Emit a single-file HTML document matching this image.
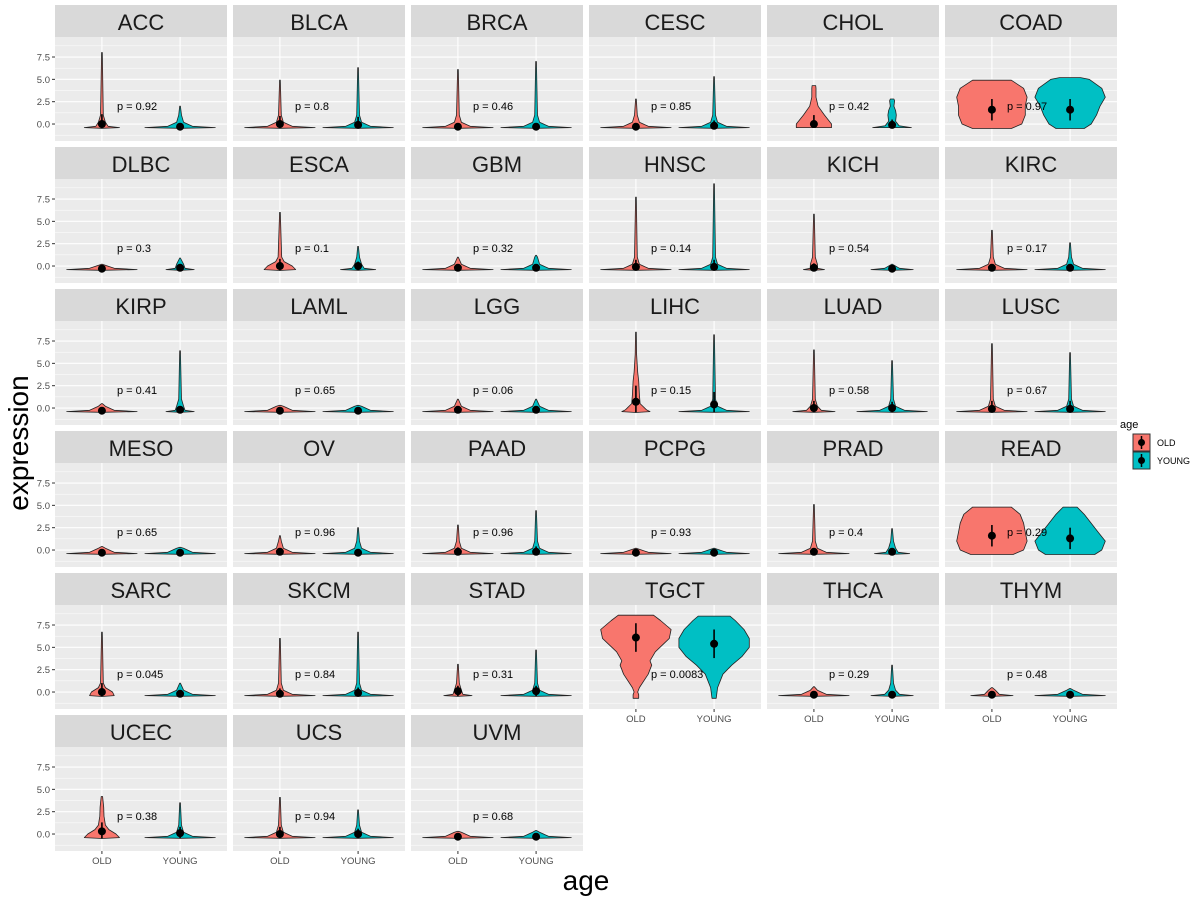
<!DOCTYPE html>
<html><head><meta charset="utf-8"><style>
body{margin:0;background:#fff;font-family:"Liberation Sans",Arial,sans-serif}
svg{display:block}
</style></head><body>
<svg id="chart" width="1200" height="900" viewBox="0 0 1200 900" xmlns="http://www.w3.org/2000/svg">
<text x="586" y="890" font-size="28" text-anchor="middle" fill="#000">age</text>
<text transform="translate(28,443) rotate(-90)" font-size="28" text-anchor="middle" fill="#000">expression</text>
<g>
<text x="1120" y="428" font-size="11" fill="#000">age</text>
<g><rect x="1133" y="434" width="17" height="17" fill="#F8766D" stroke="#333" stroke-width="1"/><line x1="1141.5" y1="436" x2="1141.5" y2="449" stroke="#000" stroke-width="1.5"/><circle cx="1141.5" cy="442.5" r="3.5" fill="#000"/><text x="1157" y="446" font-size="9" fill="#000">OLD</text></g>
<g><rect x="1133" y="452" width="17" height="17" fill="#00BFC4" stroke="#333" stroke-width="1"/><line x1="1141.5" y1="454" x2="1141.5" y2="467" stroke="#000" stroke-width="1.5"/><circle cx="1141.5" cy="460.5" r="3.5" fill="#000"/><text x="1157" y="464" font-size="9" fill="#000">YOUNG</text></g>
</g>
<g id="panels"></g>
</svg>
<script>
const cancers=["ACC","BLCA","BRCA","CESC","CHOL","COAD","DLBC","ESCA","GBM","HNSC","KICH","KIRC","KIRP","LAML","LGG","LIHC","LUAD","LUSC","MESO","OV","PAAD","PCPG","PRAD","READ","SARC","SKCM","STAD","TGCT","THCA","THYM","UCEC","UCS","UVM"];
const pLabels=["0.92","0.8","0.46","0.85","0.42","0.97","0.3","0.1","0.32","0.14","0.54","0.17","0.41","0.65","0.06","0.15","0.58","0.67","0.65","0.96","0.96","0.93","0.4","0.29","0.045","0.84","0.31","0.0083","0.29","0.48","0.38","0.94","0.68"];
const oldMax=[8,4.9,6.1,2.8,4.3,4.9,0.2,6.0,1.0,7.7,5.8,4.0,0.5,0.3,1.0,8.5,6.5,7.2,0.4,1.6,2.8,0.2,5.1,4.8,6.7,6.0,3.1,8.6,0.6,0.5,4.2,4.1,0.3];
const youngMax=[2,6.3,7.0,5.3,2.8,5.2,0.9,2.2,1.2,9.2,0.2,2.6,6.4,0.3,1.0,8.2,5.3,6.2,0.3,2.5,4.4,0.2,2.4,4.8,1.0,6.7,4.7,8.5,3.0,0.4,3.5,2.7,0.4];
const oldMean=[0,0,-0.3,-0.3,0,1.6,-0.3,0,-0.2,-0.1,-0.2,-0.2,-0.3,-0.3,-0.2,0.7,0,-0.1,-0.3,-0.2,-0.2,-0.3,-0.2,1.6,0,-0.2,0.1,6.1,-0.3,-0.3,0.3,0,-0.3];
const youngMean=[-0.3,-0.1,-0.3,-0.2,-0.1,1.6,-0.2,0,-0.2,-0.1,-0.3,-0.2,-0.2,-0.3,-0.2,0.4,0,-0.1,-0.3,-0.3,-0.2,-0.3,-0.2,1.3,-0.2,-0.1,0.1,5.4,-0.3,-0.3,0.1,0,-0.3];
const oldSd=[1.1,0.9,0.4,0.4,1.0,1.2,0.1,0.8,0.3,0.8,0.5,0.4,0.2,0.1,0.3,1.8,0.8,0.9,0.1,0.3,0.5,0.1,0.4,1.2,1.0,0.6,0.6,1.6,0.2,0.2,1.0,0.8,0.1];
const youngSd=[0.3,0.9,0.4,0.6,0.6,1.2,0.2,0.5,0.3,0.8,0.1,0.3,0.3,0.1,0.3,1.4,0.7,0.9,0.1,0.3,0.6,0.1,0.3,1.2,0.3,0.6,0.6,1.6,0.2,0.1,0.7,0.6,0.1];
const oldBase=[0.5,1,1,1,0.5,1,1,0.5,1,1,0.3,1,1,1,1,0.3,0.6,1,1,1,1,1,1,1,0.4,1,0.4,1,1,0.6,0.5,1,1];
const youngBase=[1,1,1,1,0.55,1,0.4,0.5,1,1,0.6,1,0.4,1,1,1,1,1,1,1,1,1,0.5,1,1,1,1,1,0.6,1,1,1,1];
// special hand-read density knots [y, relative half-width]
const shapes={
 "CHOL_OLD":[[-0.4,0.5],[0,0.5],[1,0.3],[2,0.12],[3,0.06],[4,0.06],[4.3,0.05]],
 "CHOL_YOUNG":[[-0.4,0.55],[-0.2,0.2],[0.3,0.1],[1,0.12],[1.5,0.1],[2,0.05],[2.6,0.07],[2.8,0.05]],
 "COAD_OLD":[[-0.5,0.55],[0,0.85],[1,0.95],[2,0.95],[3,1],[4,0.9],[4.9,0.55]],
 "COAD_YOUNG":[[-0.5,0.4],[0,0.6],[1,0.75],[2,0.85],[3,1],[4,0.9],[5,0.55],[5.2,0.3]],
 "READ_OLD":[[-0.5,0.6],[0,0.9],[1,1],[2,0.95],[3,0.9],[4,0.8],[4.8,0.55]],
 "READ_YOUNG":[[-0.5,0.7],[0,0.9],[1,1],[2,0.8],[3,0.6],[4,0.4],[4.8,0.2]],
 "TGCT_OLD":[[-0.7,0.08],[-0.3,0.08],[0,0.05],[0.5,0.1],[2,0.35],[3,0.45],[3.5,0.4],[4.5,0.55],[6,0.95],[7,1],[8,0.7],[8.6,0.5]],
 "TGCT_YOUNG":[[-0.7,0.06],[0.5,0.1],[2,0.25],[3,0.5],[4,0.8],[5,1],[6,1],[7,0.85],[8,0.6],[8.5,0.45]],
 "LIHC_OLD":[[-0.5,0],[-0.4,0.4],[-0.2,0.3],[0.5,0.12],[1.5,0.1],[3,0.08],[4,0.05],[6,0.02],[8.5,0.01]],
 "ESCA_OLD":[[-0.5,0],[-0.4,0.45],[0,0.35],[0.5,0.12],[1,0.05],[6,0.01]],
 "SARC_OLD":[[-0.5,0],[-0.4,0.35],[0,0.3],[0.5,0.1],[1,0.04],[6.7,0.01]],
 "UCEC_OLD":[[-0.5,0],[-0.4,0.5],[0,0.4],[0.5,0.2],[1,0.1],[2,0.06],[3,0.05],[4.2,0.02]]
};
const NS="http://www.w3.org/2000/svg";
const X0=55,PW=172,PITCH_X=178,Y0=5,STRIP=32,PH=104,PITCH_Y=142;
const YMIN=-1.9,YMAX=9.74;
function yPx(row,v){const top=Y0+row*PITCH_Y+STRIP;return top+PH-(v-YMIN)/(YMAX-YMIN)*PH;}
function xPx(col,c){return X0+col*PITCH_X+(c-0.4)/2.2*PW;}
const HALF=0.45/2.2*PW;
function mk(tag,attrs,parent){const e=document.createElementNS(NS,tag);for(const k in attrs)e.setAttribute(k,attrs[k]);parent.appendChild(e);return e;}
function knots(name,grp,top,base){
  const key=name+"_"+grp;if(shapes[key])return shapes[key];
  const k=[[-0.48,0],[-0.4,base],[-0.25,base*0.35],[0.2,0.1],[1,0.04]].filter(p=>p[0]<top);
  k.push([top,0.01]);return k;
}
const root=document.getElementById('panels');
const yt=[0,2.5,5,7.5],ytl=["0.0","2.5","5.0","7.5"];
cancers.forEach((name,i)=>{
  const col=i%6,row=Math.floor(i/6);
  const g=mk('g',{},root);
  
  
  const px=X0+col*PITCH_X,pt=Y0+row*PITCH_Y;
  const strip=mk('rect',{x:px,y:pt,width:PW,height:STRIP,fill:'#D9D9D9'},g);
  
  
  const st=mk('text',{x:px+PW/2,y:pt+25,'font-size':22,'text-anchor':'middle',fill:'#1a1a1a'},g);st.textContent=name;
  
  
  mk('rect',{x:px,y:pt+STRIP,width:PW,height:PH,fill:'#EBEBEB'},g);
  [-1.25,1.25,3.75,6.25,8.75].forEach(v=>mk('line',{x1:px,x2:px+PW,y1:yPx(row,v),y2:yPx(row,v),stroke:'#fff','stroke-width':0.5},g));
  yt.forEach(v=>mk('line',{x1:px,x2:px+PW,y1:yPx(row,v),y2:yPx(row,v),stroke:'#fff','stroke-width':1.1},g));
  [1,2].forEach(c=>mk('line',{x1:xPx(col,c),x2:xPx(col,c),y1:pt+STRIP,y2:pt+STRIP+PH,stroke:'#fff','stroke-width':1.1},g));
  if(col===0){yt.forEach((v,j)=>{const y=yPx(row,v);mk('line',{x1:px-3,x2:px,y1:y,y2:y,stroke:'#333'},g);
    const t=mk('text',{x:px-5,y:y+3.5,'font-size':9.5,'text-anchor':'end',fill:'#4d4d4d'},g);t.textContent=ytl[j];
    
    });}
  const bottom=(i+6>=cancers.length);
  if(bottom){["OLD","YOUNG"].forEach((l,c)=>{const x=xPx(col,c+1),y=pt+STRIP+PH;mk('line',{x1:x,x2:x,y1:y,y2:y+3,stroke:'#333'},g);
    const t=mk('text',{x:x,y:y+13,'font-size':9.5,'text-anchor':'middle',fill:'#4d4d4d'},g);t.textContent=l;
    
    });}
  const groups=[["OLD",oldMax[i],oldMean[i],oldSd[i],oldBase[i],'#F8766D',1],["YOUNG",youngMax[i],youngMean[i],youngSd[i],youngBase[i],'#00BFC4',2]];
  groups.forEach(([grp,top,mean,sd,base,color,c])=>{
    const k=knots(name,grp,top,base);const cx=xPx(col,c);
    let pts=k.map(p=>[cx+p[1]*HALF,yPx(row,p[0])]);
    let left=k.slice().reverse().map(p=>[cx-p[1]*HALF,yPx(row,p[0])]);
    const d='M'+pts.concat(left).map(p=>p[0].toFixed(1)+','+p[1].toFixed(1)).join('L')+'Z';
    const v=mk('path',{d:d,fill:color,stroke:'#222','stroke-width':0.8,'stroke-linejoin':'round'},g);
    
    
    const lo=Math.max(mean-sd,k[0][0]);
    mk('line',{x1:cx,x2:cx,y1:yPx(row,lo),y2:yPx(row,mean+sd),stroke:'#000','stroke-width':1.6},g);
    const dot=mk('circle',{cx:cx,cy:yPx(row,mean),r:4,fill:'#000'},g);
    
    
  });
  const p=mk('text',{x:px+62,y:yPx(row,2.0)+4,'font-size':11,fill:'#000'},g);p.textContent='p = '+pLabels[i];
  
  
});
</script>
</body></html>
